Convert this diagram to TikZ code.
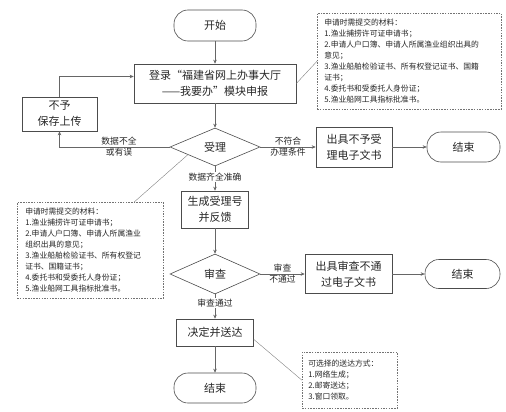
\documentclass[tikz,border=0pt]{standalone}
\usepackage{fontspec}
\setmainfont{Noto Sans CJK SC}
\usetikzlibrary{shapes.geometric,arrows.meta,calc}
\begin{document}
\begin{tikzpicture}[x=1pt,y=-1pt,
  box/.style={draw=black!70, line width=0.6pt, align=center, inner sep=0pt, text=black!85, font=\fontsize{11}{16}\selectfont},
  term/.style={box, rounded corners=14pt},
  dia/.style={draw=black!70, line width=0.6pt, diamond, inner sep=0pt, text=black!85, font=\fontsize{11}{16}\selectfont},
  note/.style={draw=black!55, line width=0.5pt, dash pattern=on 1.5pt off 1.2pt, align=left, anchor=north west, inner ysep=2pt, text=black!85, font=\fontsize{7.8}{11}\selectfont},
  conn/.style={draw=black!60, line width=0.7pt, -{Stealth[length=4pt,width=3.5pt]}},
  lead/.style={draw=black!50, line width=0.4pt},
  lbl/.style={font=\fontsize{8.8}{11}\selectfont, inner sep=1pt, text=black!85}
]
\useasboundingbox (0,0) rectangle (506,412);

% main column
\node[term, minimum width=82, minimum height=31] (start) at (215,25.5) {开始};
\node[box, minimum width=162, minimum height=39] (login) at (215,83.5) {登录“福建省网上办事大厅\\——我要办”模块申报};
\node[box, minimum width=75, minimum height=34] (nosave) at (59.5,114) {不予\\保存上传};
\node[dia, minimum width=90, minimum height=38] (accept) at (215,147) {受理};
\node[box, minimum width=76, minimum height=40] (reject1) at (354,147) {出具不予受\\理电子文书};
\node[term, minimum width=73, minimum height=30] (end1) at (463.5,147) {结束};
\node[box, minimum width=67, minimum height=37] (gen) at (215,209.5) {生成受理号\\并反馈};
\node[dia, minimum width=90, minimum height=40] (review) at (215,274) {审查};
\node[box, minimum width=87, minimum height=39] (reject2) at (348.5,274) {出具审查不通\\过电子文书};
\node[term, minimum width=75, minimum height=29] (end2) at (462.5,274) {结束};
\node[box, minimum width=77, minimum height=27] (decide) at (215,332.5) {决定并送达};
\node[term, minimum width=82, minimum height=30] (end3) at (215,388) {结束};

% notes
\node[note, text width=170, inner xsep=7pt, minimum height=96] (n1) at (317,13) {申请时需提交的材料：\\1.渔业捕捞许可证申请书；\\2.申请人户口簿、申请人所属渔业组织出具的\\意见；\\3.渔业船舶检验证书、所有权登记证书、国籍\\证书；\\4.委托书和受委托人身份证；\\5.渔业船网工具指标批准书。};
\node[note, text width=130, inner xsep=8pt, minimum height=96] (n2) at (17,202) {申请时需提交的材料：\\1.渔业捕捞许可证申请书；\\2.申请人户口簿、申请人所属渔业\\组织出具的意见；\\3.渔业船舶检验证书、所有权登记\\证书、国籍证书；\\4.委托书和受委托人身份证；\\5.渔业船网工具指标批准书。};
\node[note, text width=83, inner xsep=6pt, minimum height=56] (n3) at (302,352) {可选择的送达方式：\\1.网络生成；\\2.邮寄送达；\\3.窗口领取。};

% connectors
\draw[conn] (start) -- (login);
\draw[conn] (login) -- (accept);
\draw[conn] (nosave.north) |- ($(login.west)+(0,-7)$);
\draw[conn] (accept.west) -| (nosave.south)
  node[lbl, pos=0.23, above] {数据不全}
  node[lbl, pos=0.23, below] {或有误};
\draw[conn] (accept.east) -- (reject1.west)
  node[lbl, midway, above] {不符合}
  node[lbl, midway, below] {办理条件};
\draw[conn] (reject1) -- (end1);
\draw[conn] (accept.south) -- (gen.north) node[lbl, fill=white, pos=0.44] {数据齐全准确};
\draw[conn] (gen) -- (review);
\draw[conn] (review.east) -- (reject2.west)
  node[lbl, midway, above] {审查}
  node[lbl, midway, below] {不通过};
\draw[conn] (reject2) -- (end2);
\draw[conn] (review.south) -- (decide.north) node[lbl, fill=white, pos=0.36] {审查通过};
\draw[conn] (decide) -- (end3);

% leader lines
\draw[lead] (login.east) -- (n1.west);
\draw[lead] ($(accept.west)!0.4!(accept.south)$) -- ($(n2.north west)!0.8!(n2.north east)$);
\draw[lead] ($(decide.north east)!0.75!(decide.south east)$) -- (n3.west);
\end{tikzpicture}
\end{document}
